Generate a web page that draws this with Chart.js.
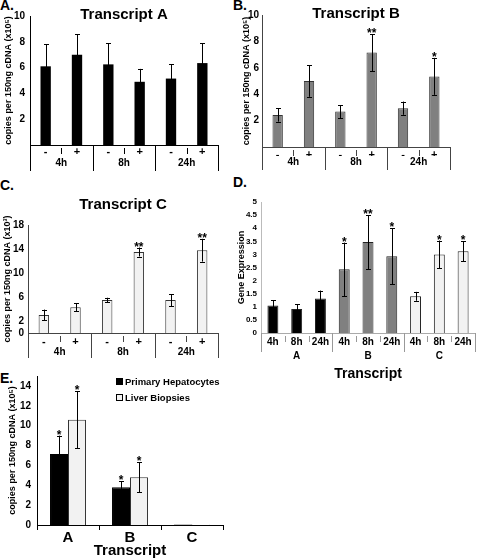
<!DOCTYPE html>
<html>
<head>
<meta charset="utf-8">
<script src="https://cdn.jsdelivr.net/npm/chart.js@4.4.1/dist/chart.umd.min.js"></script>
<style>
body { margin: 0; background: #fff; width: 477px; height: 558px; position: relative; overflow: hidden; font-family: "Liberation Sans", Arial, sans-serif; }
canvas { position: absolute; }
.tag { position: absolute; font-weight: bold; font-size: 14px; line-height: 1; }
#legendE { position: absolute; left: 116px; top: 373px; font-weight: bold; font-size: 9.5px; }
#legendE div { height: 16px; display: flex; align-items: center; }
#legendE span.box { display: inline-block; width: 7px; height: 7px; margin-right: 2px; border: 1px solid #000; box-sizing: border-box; }
</style>
</head>
<body>
<div class="tag" style="left:0;top:-2px">A.</div>
<div class="tag" style="left:233px;top:-2px">B.</div>
<div class="tag" style="left:0;top:178px">C.</div>
<div class="tag" style="left:233px;top:175px">D.</div>
<div class="tag" style="left:0;top:371px">E.</div>
<canvas id="chartA" width="238" height="178" style="left:0;top:0"></canvas>
<canvas id="chartB" width="237" height="178" style="left:240px;top:0"></canvas>
<canvas id="chartC" width="238" height="184" style="left:0;top:180px"></canvas>
<canvas id="chartD" width="245" height="207" style="left:232px;top:180px"></canvas>
<canvas id="chartE" width="238" height="196" style="left:0;top:362px"></canvas>
<div id="legendE"></div>
<script>
// time course panels (A, B, C)
const timeGroups = ['4h', '8h', '24h'];
const treatmentLabels = ['-', '+', '-', '+', '-', '+'];
const copiesTicks = [2, 4, 6, 8, 10];

const transcriptAValues = [6.1, 7.0, 6.25, 4.9, 5.15, 6.35];
const transcriptAErrors = [1.7, 1.6, 1.65, 1.0, 1.1, 1.55];
const transcriptAStars = ['', '', '', '', '', ''];

const transcriptBValues = [2.42, 5.0, 2.68, 7.15, 2.94, 5.35];
const transcriptBErrors = [0.5, 1.2, 0.5, 1.4, 0.5, 1.4];
const transcriptBStars = ['', '', '', '**', '', '*'];

const transcriptCValues = [3.0, 4.3, 5.5, 13.5, 5.5, 13.8];
const transcriptCErrors = [0.9, 0.7, 0.38, 0.75, 1.0, 1.9];
const transcriptCStars = ['', '', '', '**', '', '**'];
const transcriptCTicks = [0, 2, 6, 10, 14, 18];

// gene expression panel (D)
const geneTimes = ['4h', '8h', '24h', '4h', '8h', '24h', '4h', '8h', '24h'];
const geneTranscripts = ['A', 'B', 'C'];
const geneValues = [1.05, 0.92, 1.32, 2.43, 3.47, 2.93, 1.4, 3.0, 3.12];
const geneErrors = [0.2, 0.18, 0.3, 1.02, 1.03, 1.07, 0.17, 0.53, 0.38];
const geneStars = ['', '', '', '*', '**', '*', '', '*', '*'];

// tissue source panel (E)
const sourceTranscripts = ['A', 'B', 'C'];
const hepatocyteValues = [7.15, 3.8, 0.05];
const hepatocyteErrors = [1.85, 0.6, 0];
const biopsyValues = [10.6, 4.8, 0.03];
const biopsyErrors = [2.85, 1.5, 0];
const sourceStars = ['*', '*', ''];
const sourceTicks = [0, 2, 4, 6, 8, 10, 12, 14];

Chart.defaults.font.family = '"Liberation Sans", Arial, sans-serif';
Chart.defaults.font.weight = 'bold';
Chart.defaults.color = '#000';

const noGrid = { display: false, drawTicks: false };

const errorBarPlugin = {
    id: 'errorBars',
    afterDatasetsDraw(chart) {
        const ctx = chart.ctx;
        const yScale = chart.scales.y;
        ctx.save();
        ctx.lineWidth = 1;
        ctx.strokeStyle = '#000';
        ctx.fillStyle = '#000';
        chart.data.datasets.forEach((ds, i) => {
            chart.getDatasetMeta(i).data.forEach((bar, j) => {
                const err = ds.errors ? ds.errors[j] : 0;
                const top = yScale.getPixelForValue(ds.data[j] + err);
                if (err) {
                    const bottom = yScale.getPixelForValue(ds.data[j] - err);
                    const x = Math.round(bar.x) + 0.5;
                    ctx.beginPath();
                    ctx.moveTo(x, top);
                    ctx.lineTo(x, bottom);
                    ctx.moveTo(x - 2.5, Math.round(top) + 0.5);
                    ctx.lineTo(x + 2.5, Math.round(top) + 0.5);
                    ctx.moveTo(x - 2.5, Math.round(bottom) + 0.5);
                    ctx.lineTo(x + 2.5, Math.round(bottom) + 0.5);
                    ctx.stroke();
                }
                const star = ds.stars ? ds.stars[j] : '';
                if (star) {
                    ctx.font = 'bold 12px "Liberation Sans", Arial, sans-serif';
                    ctx.textAlign = 'center';
                    ctx.textBaseline = 'alphabetic';
                    ctx.fillText(star, bar.x, top + 3);
                }
            });
        });
        ctx.restore();
    }
};

// tick marks between categories, long ones between groups
const separatorPlugin = {
    id: 'separators',
    afterDraw(chart, args, opts) {
        if (!opts.group) return;
        const ctx = chart.ctx;
        const xScale = chart.scales.x;
        const n = chart.data.labels.length;
        const y0 = chart.chartArea.bottom;
        ctx.save();
        ctx.strokeStyle = opts.color;
        ctx.lineWidth = 1;
        ctx.beginPath();
        for (let k = 0; k <= n; k++) {
            const px = Math.round(xScale.getPixelForValue(k - 0.5)) + 0.5;
            if (k % opts.group === 0) {
                ctx.moveTo(px, y0);
                ctx.lineTo(px, y0 + opts.longLen);
            } else {
                ctx.moveTo(px, y0 + 3);
                ctx.lineTo(px, y0 + 9);
            }
        }
        ctx.stroke();
        ctx.restore();
    }
};

function buildTimeCourse(id, cfg) {
    const ctx = document.getElementById(id).getContext('2d');
    return new Chart(ctx, {
        type: 'bar',
        data: {
            labels: treatmentLabels,
            datasets: [{
                data: cfg.values,
                errors: cfg.errors,
                stars: cfg.stars,
                backgroundColor: cfg.fill,
                borderColor: cfg.border,
                borderWidth: cfg.borderWidth,
                barPercentage: 0.33,
                categoryPercentage: 1
            }]
        },
        options: {
            responsive: false,
            animation: false,
            layout: { padding: cfg.padding },
            plugins: {
                legend: { display: false },
                tooltip: { enabled: false },
                title: { display: true, fullSize: false, text: cfg.title, font: { size: 15 }, padding: cfg.titlePadding },
                separators: { group: 2, color: cfg.axisColor, longLen: cfg.longLen }
            },
            scales: {
                x: {
                    grid: noGrid,
                    border: { display: true, color: cfg.axisColor },
                    ticks: { font: { size: 11 }, padding: cfg.xPad },
                    afterFit: s => { s.height = cfg.xHeight; }
                },
                x2: {
                    type: 'category',
                    position: 'bottom',
                    weight: 1,
                    offset: true,
                    labels: timeGroups,
                    grid: noGrid,
                    border: { display: false },
                    ticks: { font: { size: 10 }, padding: cfg.x2Pad },
                    afterFit: s => { s.height = cfg.x2Height; }
                },
                y: {
                    min: 0,
                    max: cfg.max,
                    grid: noGrid,
                    border: { display: true, color: cfg.axisColor },
                    afterBuildTicks: s => { s.ticks = cfg.ticks.map(v => ({ value: v })); },
                    ticks: { font: { size: 10 }, padding: cfg.yPad },
                    title: { display: true, text: cfg.yTitle, font: { size: 9 }, padding: { top: cfg.yTitlePad, bottom: 0 } },
                    afterFit: s => { s.width = cfg.yWidth; }
                }
            }
        },
        plugins: [errorBarPlugin, separatorPlugin]
    });
}

buildTimeCourse('chartA', {
    title: 'Transcript A', values: transcriptAValues, errors: transcriptAErrors, stars: transcriptAStars,
    fill: '#000', border: '#000', borderWidth: 0, axisColor: '#000',
    padding: { top: 0, left: 0, right: 20, bottom: 8 }, titlePadding: { top: 6, bottom: -8 },
    max: 10, ticks: copiesTicks, yTitle: 'copies per 150ng cDNA (x10\u2075)', yTitlePad: 3, yPad: 5, yWidth: 30,
    xPad: 0, xHeight: 11, x2Pad: 1, x2Height: 14, longLen: 26
});

buildTimeCourse('chartB', {
    title: 'Transcript B', values: transcriptBValues, errors: transcriptBErrors, stars: transcriptBStars,
    fill: '#808080', border: '#333', borderWidth: 1, axisColor: '#444',
    padding: { top: 0, left: 0, right: 27, bottom: 8 }, titlePadding: { top: 5, bottom: -8 },
    max: 10, ticks: copiesTicks, yTitle: 'copies per 150ng cDNA (x10\u2075)', yTitlePad: 1, yPad: 3, yWidth: 22,
    xPad: 1, xHeight: 9, x2Pad: 0, x2Height: 14, longLen: 23
});

buildTimeCourse('chartC', {
    title: 'Transcript C', values: transcriptCValues, errors: transcriptCErrors, stars: transcriptCStars,
    fill: '#f2f2f2', border: '#333', borderWidth: 1, axisColor: '#444',
    padding: { top: 0, left: 0, right: 20, bottom: 6 }, titlePadding: { top: 16, bottom: 11 },
    max: 18, ticks: transcriptCTicks, yTitle: 'copies per 150ng cDNA (x10\u00b3)', yTitlePad: 2, yPad: 4, yWidth: 28,
    xPad: 2, xHeight: 11, x2Pad: 2, x2Height: 14, longLen: 25
});

// panel D
const geneColors = ['#000', '#000', '#000', '#808080', '#808080', '#808080', '#f2f2f2', '#f2f2f2', '#f2f2f2'];
new Chart(document.getElementById('chartD').getContext('2d'), {
    type: 'bar',
    data: {
        labels: geneTimes,
        datasets: [{
            data: geneValues,
            errors: geneErrors,
            stars: geneStars,
            backgroundColor: geneColors,
            borderColor: '#222',
            borderWidth: 1,
            barPercentage: 0.46,
            categoryPercentage: 1
        }]
    },
    options: {
        responsive: false,
        animation: false,
        layout: { padding: { top: 22, left: 0, right: 2, bottom: 4 } },
        plugins: {
            legend: { display: false },
            tooltip: { enabled: false },
            separators: { group: 3, color: '#999', longLen: 19 }
        },
        scales: {
            x: {
                grid: noGrid,
                border: { display: true, color: '#aaa' },
                ticks: { font: { size: 10 }, padding: 3 },
                afterFit: s => { s.height = 13; }
            },
            x2: {
                type: 'category',
                position: 'bottom',
                weight: 1,
                offset: true,
                labels: geneTranscripts,
                grid: noGrid,
                border: { display: false },
                ticks: { font: { size: 10 }, padding: 4 },
                title: { display: true, text: 'Transcript', font: { size: 14 }, padding: 0 },
                afterFit: s => { s.height = 37; }
            },
            y: {
                min: 0,
                max: 5,
                grid: noGrid,
                border: { display: true, color: '#bbb' },
                ticks: { stepSize: 0.5, font: { size: 8 }, padding: 4, callback: v => v },
                title: { display: true, text: 'Gene Expression', font: { size: 9 }, padding: { top: 4, bottom: 0 } },
                afterFit: s => { s.width = 29; }
            }
        }
    },
    plugins: [errorBarPlugin, separatorPlugin]
});

// panel E
const chartE = new Chart(document.getElementById('chartE').getContext('2d'), {
    type: 'bar',
    data: {
        labels: sourceTranscripts,
        datasets: [{
            label: 'Primary Hepatocytes',
            data: hepatocyteValues,
            errors: hepatocyteErrors,
            stars: sourceStars,
            backgroundColor: '#000',
            borderColor: '#000',
            borderWidth: 1,
            barPercentage: 1,
            categoryPercentage: 0.58
        }, {
            label: 'Liver Biopsies',
            data: biopsyValues,
            errors: biopsyErrors,
            stars: sourceStars,
            backgroundColor: '#f2f2f2',
            borderColor: '#333',
            borderWidth: 1,
            barPercentage: 1,
            categoryPercentage: 0.58
        }]
    },
    options: {
        responsive: false,
        animation: false,
        layout: { padding: { top: 14, left: 0, right: 15, bottom: 0 } },
        plugins: {
            legend: { display: false },
            tooltip: { enabled: false }
        },
        scales: {
            x: {
                grid: { display: true, drawOnChartArea: false, offset: true, tickLength: 5, color: '#000' },
                border: { display: true, color: '#000' },
                ticks: { font: { size: 15, lineHeight: 1 }, padding: 0 },
                title: { display: true, text: 'Transcript', font: { size: 15, lineHeight: 1 }, padding: 0 },
                afterFit: s => { s.height = 33; }
            },
            y: {
                min: 0,
                max: 15,
                grid: noGrid,
                border: { display: true, color: '#000' },
                afterBuildTicks: s => { s.ticks = sourceTicks.map(v => ({ value: v })); },
                ticks: { font: { size: 10 }, padding: 6 },
                title: { display: true, text: 'copies per 150ng cDNA (x10\u2075)', font: { size: 9 }, padding: { top: 7, bottom: 0 } },
                afterFit: s => { s.width = 37; }
            }
        }
    },
    plugins: [errorBarPlugin]
});

// html legend for panel E
const legendBox = document.getElementById('legendE');
chartE.data.datasets.forEach(ds => {
    const row = document.createElement('div');
    const box = document.createElement('span');
    box.className = 'box';
    box.style.background = ds.backgroundColor;
    row.appendChild(box);
    row.appendChild(document.createTextNode(ds.label));
    legendBox.appendChild(row);
});
</script>
</body>
</html>
